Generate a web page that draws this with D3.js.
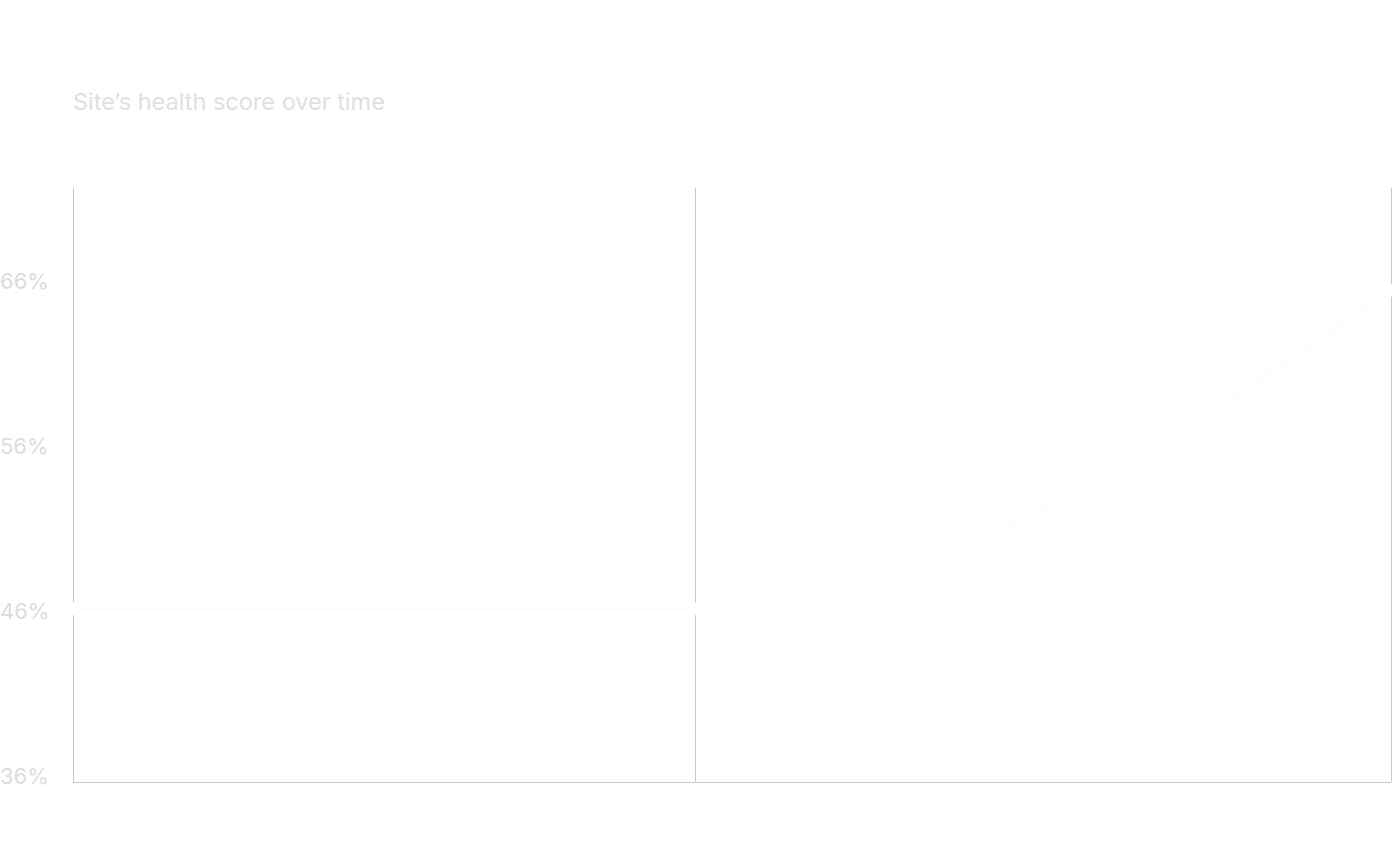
<!DOCTYPE html>
<html>
<head>
<meta charset="utf-8">
<script src="https://cdn.jsdelivr.net/npm/d3@7"></script>
<style>
  body { margin: 0; background: #fff; }
  svg text { font-family: Inter, "Noto Sans", sans-serif; }
</style>
</head>
<body>
<div id="chart"></div>
<script>
// Health score readings (percent) per scan date
const scanDates = ['2023-01-06', '2023-01-31', '2023-02-28'];
const healthScores = [46.5, 46.5, 65.8];
const yTickValues = [36, 46, 56, 66];

const width = 1400;
const height = 863;
const margin = { top: 188, right: 9, bottom: 81, left: 73 };

const parseDate = d3.timeParse('%Y-%m-%d');
const points = scanDates.map((d, i) => ({ date: parseDate(d), value: healthScores[i] }));

const svg = d3.select('#chart')
  .append('svg')
  .attr('width', width)
  .attr('height', height);

// Title
svg.append('text')
  .attr('x', margin.left)
  .attr('y', 110)
  .attr('font-size', 23.5)
  .attr('fill', '#e0e0e0')
  .text('Site\u2019s health score over time');

const x = d3.scaleTime()
  .domain(d3.extent(points, d => d.date))
  .range([margin.left, width - margin.right]);

const y = d3.scaleLinear()
  .domain([36, 72])
  .range([height - margin.bottom, margin.top]);

// Vertical gridlines at each scan date
svg.append('g')
  .selectAll('line')
  .data(points)
  .enter()
  .append('line')
  .attr('x1', d => Math.round(x(d.date)) + 0.5)
  .attr('x2', d => Math.round(x(d.date)) + 0.5)
  .attr('y1', margin.top)
  .attr('y2', height - margin.bottom)
  .attr('stroke', '#c8c8c8')
  .attr('stroke-width', 1);

// Bottom axis line
svg.append('line')
  .attr('x1', margin.left)
  .attr('x2', width - margin.right)
  .attr('y1', height - margin.bottom + 0.5)
  .attr('y2', height - margin.bottom + 0.5)
  .attr('stroke', '#c8c8c8')
  .attr('stroke-width', 1);

// Y labels
svg.append('g')
  .selectAll('text')
  .data(yTickValues)
  .enter()
  .append('text')
  .attr('x', 0)
  .attr('y', d => y(d) - 6)
  .attr('dy', '0.35em')
  .attr('font-size', 22)
  .attr('fill', '#dcdcdc')
  .text(d => d + '%');

// Score line (drawn almost white)
const line = d3.line()
  .x(d => x(d.date))
  .y(d => y(d.value))
  .curve(d3.curveMonotoneX);

svg.append('path')
  .datum(points)
  .attr('d', line)
  .attr('fill', 'none')
  .attr('stroke', '#fcfcfc')
  .attr('stroke-width', 2);

svg.append('g')
  .selectAll('circle')
  .data(points)
  .enter()
  .append('circle')
  .attr('cx', d => x(d.date))
  .attr('cy', d => y(d.value))
  .attr('r', 6.5)
  .attr('fill', '#fff');
</script>
</body>
</html>
